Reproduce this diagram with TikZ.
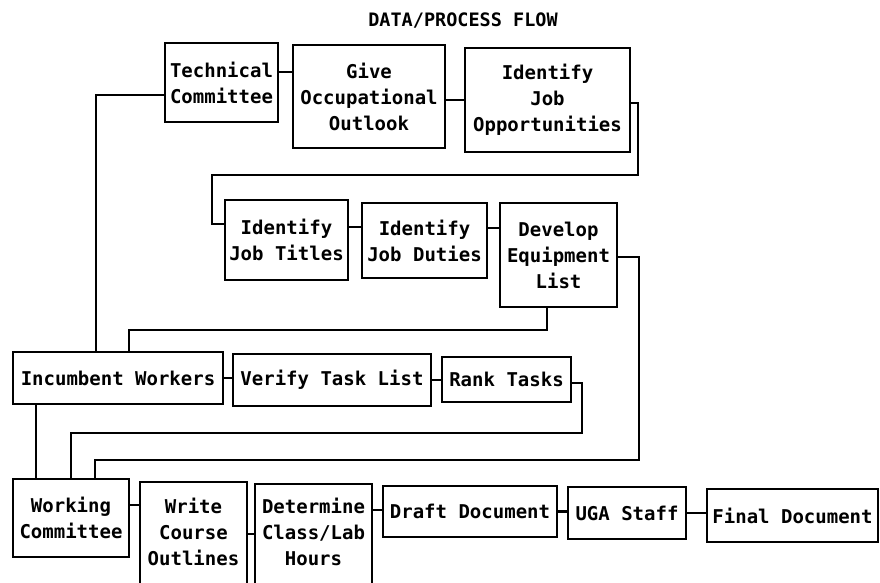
\documentclass[tikz,border=0pt]{standalone}
\usepackage{fontspec}
\newfontfamily\dfont{DejaVu Sans Mono}
\begin{document}
\begin{tikzpicture}[x=1pt,y=-1pt,
  pbox/.style={draw, line width=2.6pt, inner sep=0pt, align=center,
    font={\dfont\bfseries\fontsize{19}{26}\selectfont}},
  lbl/.style={inner sep=0pt, align=center,
    font={\dfont\bfseries\fontsize{19}{26}\selectfont}},
  ttl/.style={inner sep=0pt, font={\dfont\bfseries\fontsize{18.5}{22}\selectfont}},
  conn/.style={line width=2.4pt}]
\useasboundingbox (0,0) rectangle (880,582);
\fill[white] (0,0) rectangle (880,582);

\node[ttl] (title) at (463,20) {DATA/PROCESS FLOW};

\node[pbox, minimum width=113, minimum height=79] (tech) at (221.5,82.5) {Technical\\Committee};
\node[pbox, minimum width=152, minimum height=103] (give) at (369,96.5) {Give\\Occupational\\Outlook};
\node[pbox, minimum width=165, minimum height=104] (opp) at (547.5,100) {Identify\\Job\\Opportunities};

\node[pbox, minimum width=123, minimum height=80] (titles) at (286.5,240) {Identify\\Job Titles};
\node[pbox, minimum width=125, minimum height=75] (duties) at (424.5,240.5) {Identify\\Job Duties};
\node[pbox, minimum width=117, minimum height=104] (equip) at (558.5,255) {Develop\\Equipment\\List};

\node[pbox, minimum width=210, minimum height=52] (incumb) at (118,378) {Incumbent Workers};
\node[pbox, minimum width=198, minimum height=52] (verify) at (332,380) {Verify Task List};
\node[pbox, minimum width=129, minimum height=45] (rank) at (506.5,379.5) {Rank Tasks};

\node[pbox, minimum width=116, minimum height=78] (working) at (71,518) {Working\\Committee};
\node[pbox, minimum width=107, minimum height=120] (write) at (193.5,542) {};
\node[lbl] (writet) at (193.5,532) {Write\\Course\\Outlines};
\node[pbox, minimum width=117, minimum height=120] (determ) at (313.5,544) {};
\node[lbl] (determt) at (313.5,532) {Determine\\Class/Lab\\Hours};
\node[pbox, minimum width=174, minimum height=51] (draft) at (470,511.5) {Draft Document};
\node[pbox, minimum width=118, minimum height=52] (uga) at (627,513) {UGA Staff};
\node[pbox, minimum width=171, minimum height=53] (final) at (792.5,515.5) {Final Document};

% top row
\draw[conn] ([yshift=10.5pt]tech.east) coordinate (a1) -- (a1 -| give.west);
\draw[conn] ([yshift=-3.5pt]give.east) coordinate (a2) -- (a2 -| opp.west);
\draw[conn] ([yshift=-3pt]opp.east) -| (638,175) -| (212,224) -- ([yshift=16pt]titles.west);
% second row
\draw[conn] ([yshift=13pt]titles.east) coordinate (a3) -- (a3 -| duties.west);
\draw[conn] ([yshift=12.5pt]duties.east) coordinate (a4) -- (a4 -| equip.west);
\draw[conn] ([xshift=-11.5pt]equip.south) |- (129,330) -- ([xshift=11pt]incumb.north);
\draw[conn] ([yshift=-2pt]equip.east) -| (639,460) -| ([xshift=24pt]working.north);
% third row
\draw[conn] ([xshift=-22pt]incumb.north) |- ([yshift=-12.5pt]tech.west);
\draw[conn] (incumb.east) coordinate (a5) -- (a5 -| verify.west);
\draw[conn] (verify.east) coordinate (a6) -- (a6 -| rank.west);
\draw[conn] ([yshift=-3.5pt]rank.east) -| (582,433) -| (working.north);
\draw[conn] ([xshift=-82pt]incumb.south) -- ([xshift=-35pt]working.north);
% bottom row
\draw[conn] ([yshift=13pt]working.east) coordinate (a7) -- (a7 -| write.west);
\draw[conn] ([yshift=8pt]write.east) coordinate (a8) -- (a8 -| determ.west);
\draw[conn] ([yshift=34pt]determ.east) coordinate (a9) -- (a9 -| draft.west);
\draw[conn] (draft.east) coordinate (a10) -- (a10 -| uga.west);
\draw[conn] (uga.east) coordinate (a11) -- (a11 -| final.west);
\end{tikzpicture}
\end{document}
